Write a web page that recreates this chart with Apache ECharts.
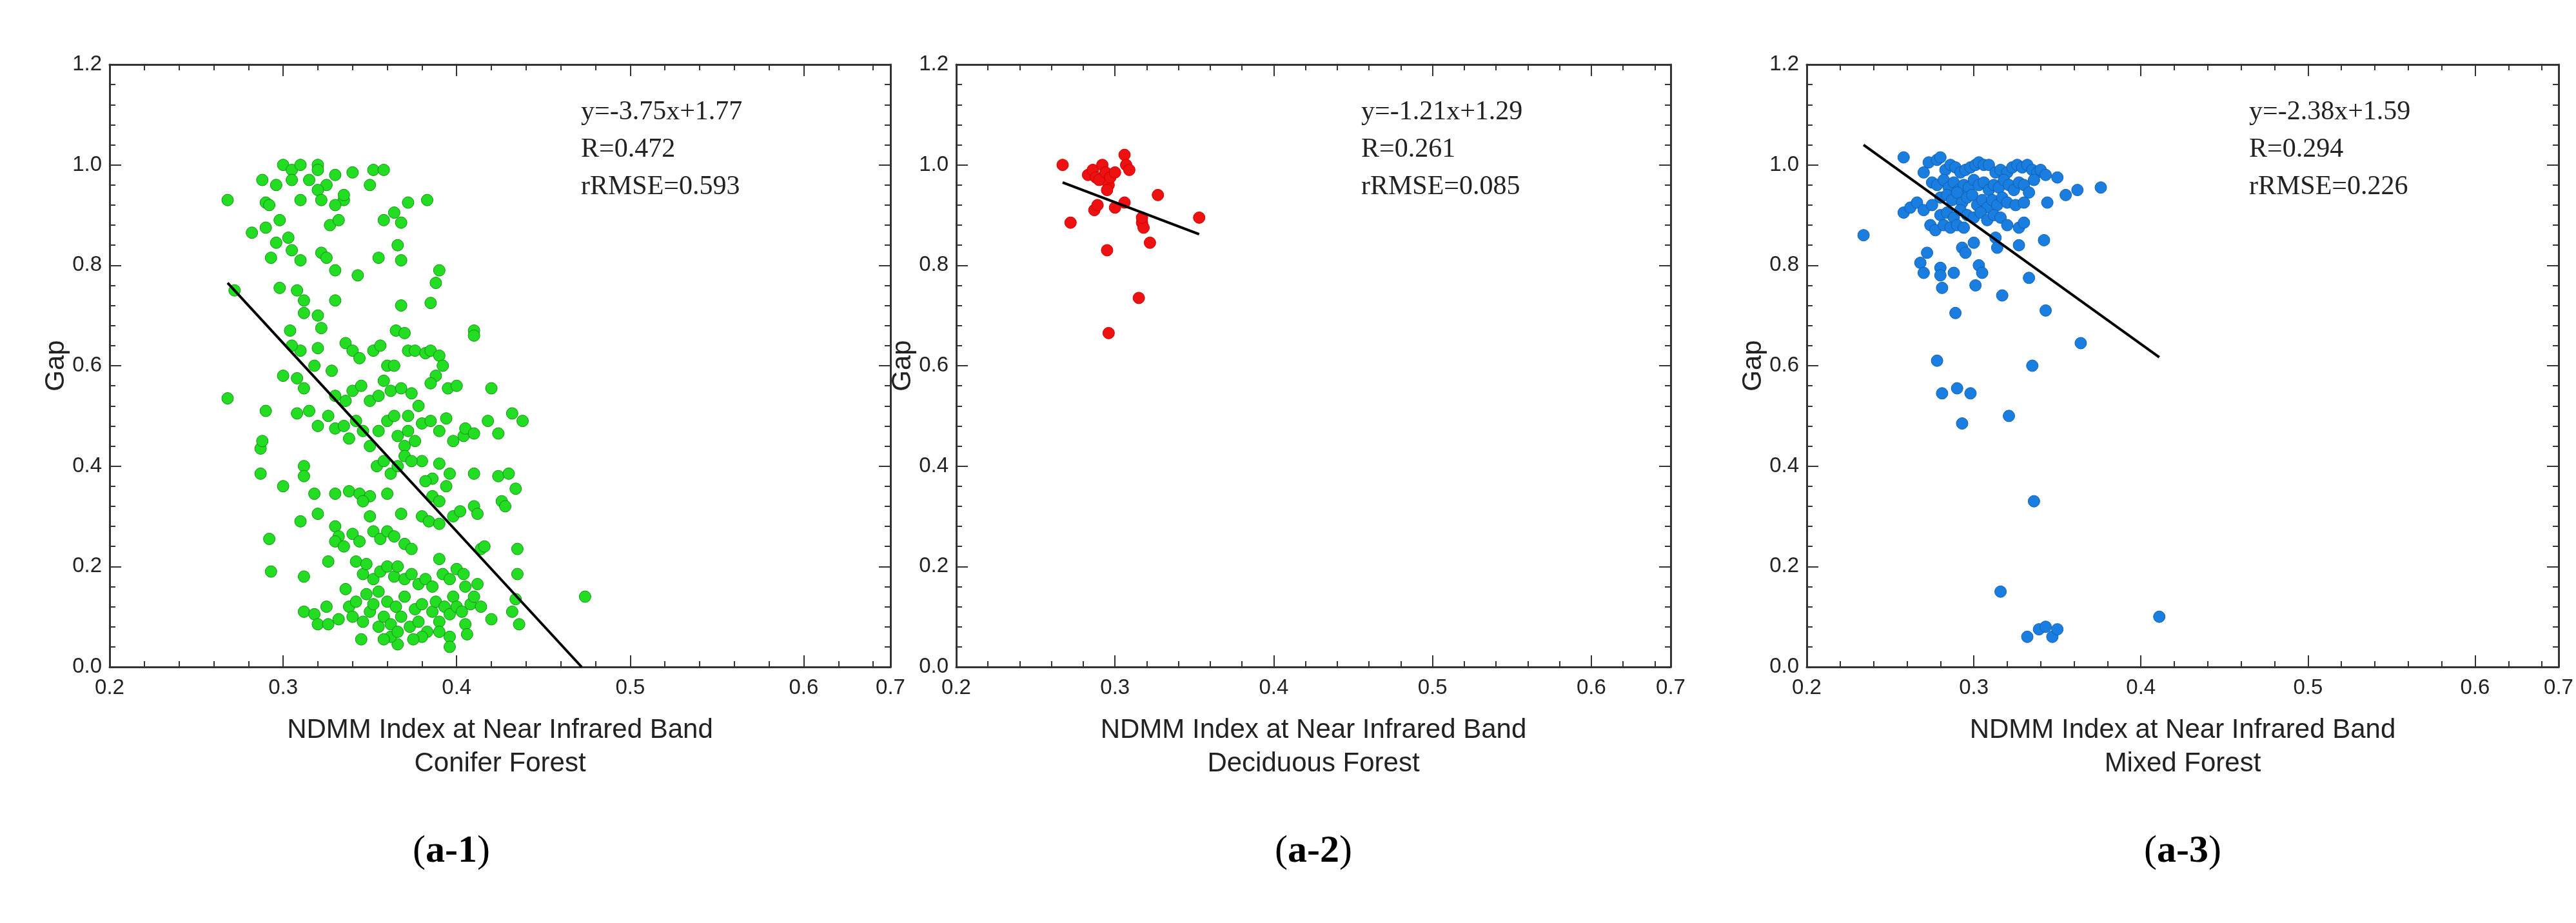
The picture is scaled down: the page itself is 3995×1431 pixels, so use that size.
<!DOCTYPE html>
<html>
<head>
<meta charset="utf-8">
<script src="https://cdn.jsdelivr.net/npm/echarts@6/dist/echarts.min.js"></script>
<style>html,body{margin:0;padding:0;background:#fff}#c{width:3995px;height:1431px}</style>
</head>
<body>
<div id="c"></div>
<script>
// panel data
const coniferPts = [
  [0.30,1.0],[0.305,0.99],[0.31,1.0],[0.315,0.97],[0.32,1.0],[0.32,0.99],[0.325,0.96],[0.33,0.98],[0.335,0.93],[0.34,0.985],[0.352,0.99],[0.358,0.99],[0.35,0.96],
  [0.288,0.97],[0.296,0.96],[0.305,0.97],[0.31,0.93],[0.32,0.95],[0.322,0.93],[0.33,0.92],[0.335,0.94],[0.327,0.88],[0.332,0.89],[0.268,0.93],[0.29,0.925],[0.292,0.92],
  [0.298,0.89],[0.282,0.865],[0.29,0.875],[0.296,0.845],[0.303,0.855],[0.305,0.83],[0.293,0.815],[0.31,0.81],[0.322,0.825],[0.325,0.815],[0.33,0.79],[0.343,0.78],
  [0.355,0.815],[0.358,0.89],[0.364,0.905],[0.368,0.885],[0.372,0.925],[0.383,0.93],[0.366,0.84],[0.368,0.81],[0.39,0.79],[0.388,0.765],[0.385,0.725],[0.368,0.72],
  [0.298,0.755],[0.308,0.75],[0.312,0.73],[0.33,0.73],[0.272,0.75],[0.312,0.705],[0.32,0.7],[0.322,0.675],[0.304,0.67],[0.31,0.63],[0.305,0.64],[0.32,0.635],
  [0.336,0.645],[0.34,0.63],[0.344,0.615],[0.352,0.63],[0.356,0.64],[0.36,0.6],[0.364,0.6],[0.365,0.67],[0.37,0.665],[0.372,0.63],[0.376,0.63],[0.382,0.625],
  [0.385,0.63],[0.39,0.62],[0.392,0.6],[0.388,0.58],[0.385,0.565],[0.395,0.555],[0.4,0.56],[0.41,0.67],[0.41,0.66],[0.42,0.555],[0.268,0.535],[0.3,0.58],[0.308,0.575],
  [0.312,0.555],[0.318,0.6],[0.328,0.59],[0.33,0.54],[0.336,0.53],[0.34,0.55],[0.345,0.56],[0.35,0.53],[0.355,0.54],[0.358,0.57],[0.362,0.55],[0.368,0.555],[0.374,0.545],
  [0.378,0.52],[0.372,0.5],[0.38,0.485],[0.385,0.49],[0.39,0.47],[0.394,0.495],[0.398,0.45],[0.404,0.46],[0.405,0.475],[0.41,0.465],[0.418,0.49],[0.424,0.465],[0.432,0.505],[0.438,0.49],
  [0.29,0.51],[0.308,0.505],[0.315,0.51],[0.32,0.48],[0.326,0.5],[0.33,0.475],[0.335,0.48],[0.338,0.455],[0.342,0.49],[0.346,0.47],[0.35,0.44],[0.355,0.47],[0.36,0.49],[0.364,0.5],
  [0.366,0.46],[0.37,0.44],[0.372,0.47],[0.376,0.45],[0.38,0.41],[0.386,0.375],[0.39,0.405],[0.396,0.385],[0.41,0.385],[0.424,0.38],[0.43,0.385],[0.434,0.355],[0.426,0.33],[0.428,0.32],
  [0.287,0.435],[0.288,0.45],[0.287,0.385],[0.3,0.36],[0.312,0.4],[0.312,0.38],[0.318,0.345],[0.33,0.345],[0.338,0.35],[0.344,0.345],[0.35,0.34],[0.354,0.4],[0.358,0.41],
  [0.362,0.385],[0.366,0.4],[0.37,0.42],[0.374,0.41],[0.382,0.37],[0.386,0.34],[0.39,0.33],[0.394,0.36],[0.398,0.3],[0.402,0.31],[0.41,0.32],[0.412,0.305],
  [0.36,0.345],[0.346,0.33],[0.35,0.3],[0.368,0.305],[0.38,0.3],[0.384,0.29],[0.39,0.285],[0.31,0.29],[0.32,0.305],[0.33,0.28],[0.332,0.26],[0.34,0.265],[0.344,0.25],
  [0.352,0.27],[0.356,0.255],[0.36,0.27],[0.364,0.26],[0.37,0.245],[0.374,0.235],[0.33,0.25],[0.326,0.21],[0.335,0.24],[0.292,0.255],[0.293,0.19],[0.312,0.18],[0.336,0.155],
  [0.342,0.21],[0.346,0.185],[0.348,0.205],[0.352,0.175],[0.356,0.19],[0.36,0.2],[0.364,0.18],[0.366,0.2],[0.37,0.175],[0.374,0.185],[0.378,0.165],[0.382,0.175],[0.386,0.16],
  [0.39,0.215],[0.392,0.185],[0.396,0.175],[0.4,0.195],[0.404,0.185],[0.405,0.16],[0.412,0.165],[0.414,0.235],[0.416,0.24],[0.435,0.235],[0.435,0.185],[0.434,0.135],
  [0.312,0.11],[0.318,0.105],[0.325,0.12],[0.32,0.085],[0.326,0.085],[0.332,0.095],[0.338,0.12],[0.34,0.1],[0.342,0.13],[0.346,0.09],[0.348,0.145],[0.35,0.11],[0.352,0.125],
  [0.355,0.15],[0.358,0.1],[0.36,0.13],[0.362,0.085],[0.365,0.12],[0.368,0.1],[0.37,0.14],[0.373,0.08],[0.376,0.115],[0.378,0.09],[0.38,0.125],[0.383,0.07],[0.386,0.11],
  [0.388,0.13],[0.39,0.09],[0.393,0.12],[0.396,0.105],[0.398,0.14],[0.4,0.12],[0.403,0.11],[0.405,0.085],[0.408,0.125],[0.41,0.14],[0.414,0.12],[0.406,0.065],[0.396,0.06],
  [0.39,0.07],[0.38,0.06],[0.375,0.055],[0.366,0.045],[0.362,0.06],[0.358,0.055],[0.345,0.055],[0.396,0.04],[0.366,0.07],[0.355,0.08],[0.42,0.095],[0.432,0.11],[0.436,0.085],[0.474,0.14]
];
const deciduousPts = [
  [0.267,1.0],[0.272,0.885],[0.283,0.98],[0.286,0.99],[0.288,0.975],[0.29,0.97],[0.292,1.0],[0.294,0.985],[0.296,0.96],[0.297,0.975],[0.3,0.985],[0.295,0.95],
  [0.287,0.91],[0.289,0.92],[0.3,0.915],[0.306,1.02],[0.307,1.0],[0.309,0.99],[0.306,0.925],[0.317,0.885],[0.318,0.875],[0.317,0.895],[0.322,0.845],[0.327,0.94],
  [0.353,0.895],[0.295,0.83],[0.315,0.735],[0.296,0.665]
];
const mixedPts = [
  [0.234,0.86],[0.258,1.015],[0.258,0.905],[0.262,0.915],[0.266,0.925],[0.27,0.985],[0.273,1.005],[0.275,0.965],[0.278,1.01],[0.28,1.015],[0.283,0.99],[0.286,1.0],
  [0.289,0.995],[0.292,0.985],[0.295,0.99],[0.298,0.995],[0.301,1.0],[0.303,1.005],[0.306,1.0],[0.309,1.0],[0.313,0.985],[0.316,0.99],[0.32,0.985],[0.323,0.995],
  [0.326,1.0],[0.329,0.995],[0.332,1.0],[0.335,0.99],[0.338,0.985],[0.34,0.99],[0.343,0.98],[0.35,0.975],[0.376,0.955],[0.362,0.95],[0.355,0.94],[0.344,0.925],
  [0.278,0.96],[0.282,0.97],[0.285,0.955],[0.288,0.965],[0.291,0.95],[0.294,0.96],[0.297,0.955],[0.3,0.97],[0.303,0.96],[0.306,0.965],[0.309,0.95],[0.312,0.96],
  [0.315,0.955],[0.318,0.97],[0.321,0.96],[0.324,0.95],[0.327,0.965],[0.33,0.96],[0.333,0.945],[0.336,0.97],[0.28,0.935],[0.284,0.94],[0.287,0.93],[0.29,0.945],
  [0.293,0.925],[0.296,0.935],[0.299,0.94],[0.302,0.92],[0.305,0.93],[0.308,0.915],[0.311,0.93],[0.314,0.92],[0.317,0.935],[0.32,0.925],[0.325,0.92],[0.33,0.925],
  [0.27,0.91],[0.275,0.92],[0.28,0.9],[0.284,0.905],[0.288,0.895],[0.292,0.91],[0.296,0.9],[0.3,0.895],[0.304,0.905],[0.308,0.89],[0.312,0.9],[0.316,0.895],
  [0.274,0.88],[0.277,0.87],[0.282,0.88],[0.286,0.875],[0.29,0.88],[0.294,0.875],[0.32,0.88],[0.327,0.875],[0.33,0.885],
  [0.268,0.805],[0.27,0.785],[0.272,0.825],[0.28,0.795],[0.28,0.78],[0.281,0.755],[0.288,0.785],[0.293,0.835],[0.295,0.825],[0.3,0.845],[0.303,0.8],[0.305,0.785],
  [0.301,0.76],[0.313,0.855],[0.314,0.835],[0.327,0.84],[0.342,0.85],[0.333,0.775],[0.317,0.74],[0.289,0.705],[0.343,0.71],[0.364,0.645],
  [0.278,0.61],[0.281,0.545],[0.29,0.555],[0.298,0.545],[0.293,0.485],[0.335,0.6],[0.321,0.5],[0.336,0.33],[0.316,0.15],[0.411,0.1],
  [0.332,0.06],[0.339,0.075],[0.343,0.08],[0.347,0.06],[0.35,0.075]
];
const fitConifer = [[0.268,0.765],[0.472,0]];
const fitDeciduous = [[0.267,0.965],[0.353,0.862]];
const fitMixed = [[0.234,1.04],[0.411,0.617]];
const forestNames = ['Conifer Forest','Deciduous Forest','Mixed Forest'];
const equations = [
  'y=-3.75x+1.77\nR=0.472\nrRMSE=0.593',
  'y=-1.21x+1.29\nR=0.261\nrRMSE=0.085',
  'y=-2.38x+1.59\nR=0.294\nrRMSE=0.226'
];
const panelLabels = ['a-1','a-2','a-3'];

const panels = [
  {pts: coniferPts, fit: fitConifer, color: '#22dd22', border: '#129012', left: 170, right: 1381, labelX: 700},
  {pts: deciduousPts, fit: fitDeciduous, color: '#ee1111', border: '#cc0000', left: 1483, right: 2591, labelX: 2037},
  {pts: mixedPts, fit: fitMixed, color: '#1a7ee0', border: '#0f5fb0', left: 2802, right: 3968, labelX: 3385}
];
const gridTop = 100, gridBottom = 1034;

const grid = [], xAxis = [], yAxis = [], series = [], graphic = [];
panels.forEach((p, i) => {
  grid.push({left: p.left, width: p.right - p.left, top: gridTop, height: gridBottom - gridTop, show: false});
  const ax = {gridIndex: i, min: 0.2, max: 0.65, interval: 0.1, splitLine: {show: false},
    axisLine: {onZero: false, lineStyle: {color: '#333', width: 3}},
    axisTick: {inside: true, length: 18, lineStyle: {color: '#333', width: 2}},
    minorTick: {show: true, splitNumber: 5, length: 9, lineStyle: {color: '#333', width: 2}}};
  xAxis.push(Object.assign({}, ax, {position: 'bottom', name: 'NDMM Index at Near Infrared Band\n' + forestNames[i],
    nameLocation: 'middle', nameGap: 72, nameTextStyle: {fontFamily: 'Liberation Sans', fontSize: 42, color: '#222', lineHeight: 52},
    axisLabel: {fontFamily: 'Liberation Sans', fontSize: 33, color: '#222', margin: 16, formatter: v => v.toFixed(1)}}));
  xAxis.push(Object.assign({}, ax, {position: 'top', axisLabel: {show: false}}));
  const ay = {gridIndex: i, min: 0, max: 1.2, interval: 0.2, splitLine: {show: false},
    axisLine: {onZero: false, lineStyle: {color: '#333', width: 3}},
    axisTick: {inside: true, length: 18, lineStyle: {color: '#333', width: 2}},
    minorTick: {show: true, splitNumber: 5, length: 9, lineStyle: {color: '#333', width: 2}}};
  yAxis.push(Object.assign({}, ay, {position: 'left', name: 'Gap', nameLocation: 'middle', nameGap: 60,
    nameTextStyle: {fontFamily: 'Liberation Sans', fontSize: 42, color: '#222'},
    axisLabel: {fontFamily: 'Liberation Sans', fontSize: 33, color: '#222', margin: 12, formatter: v => v.toFixed(1)}}));
  yAxis.push(Object.assign({}, ay, {position: 'right', axisLabel: {show: false}}));
  series.push({type: 'scatter', xAxisIndex: 2 * i, yAxisIndex: 2 * i, data: p.pts, symbolSize: 18,
    itemStyle: {color: p.color, borderColor: p.border, borderWidth: 1, opacity: 1}});
  series.push({type: 'line', xAxisIndex: 2 * i, yAxisIndex: 2 * i, data: p.fit, symbol: 'none',
    lineStyle: {color: '#000', width: 4}});
  graphic.push({type: 'text', left: p.right - 480, top: 145, style: {text: equations[i],
    font: '42px "Liberation Serif"', fill: '#222', lineHeight: 58}});
  graphic.push({type: 'text', left: p.labelX - 60, top: 1290, style: {rich: {
    p: {font: '60px "Liberation Serif"', fill: '#000'},
    b: {font: 'bold 60px "Liberation Serif"', fill: '#000'}},
    text: '{p|(}{b|' + panelLabels[i] + '}{p|)}'}});
});

const chart = echarts.init(document.getElementById('c'));
chart.setOption({animation: false, grid, xAxis, yAxis, series, graphic});
</script>
</body>
</html>
